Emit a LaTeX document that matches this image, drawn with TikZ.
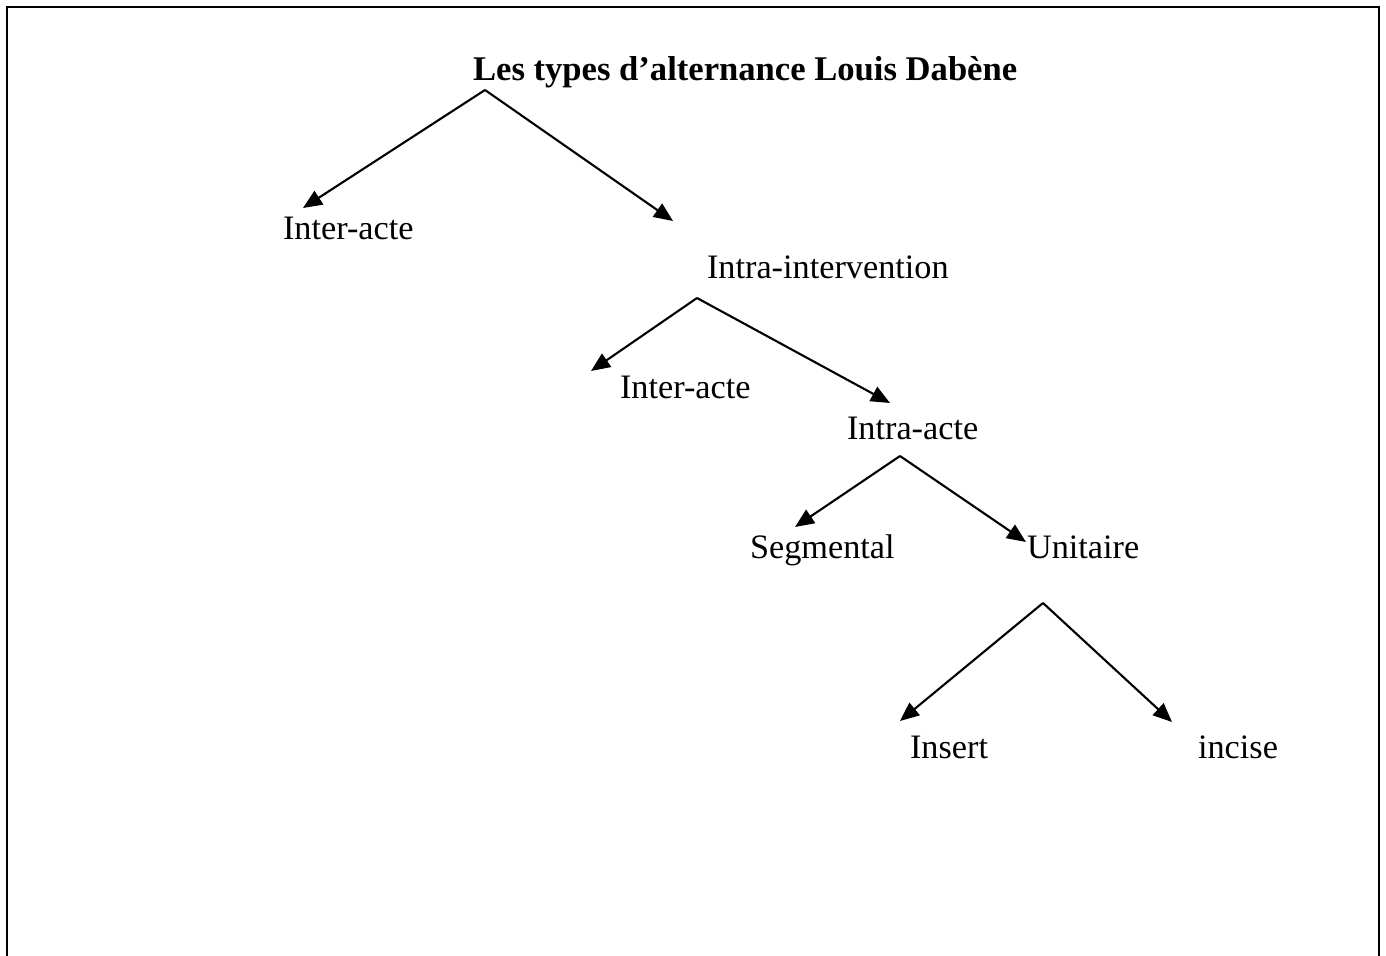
\documentclass[tikz,border=0pt]{standalone}
\usepackage{fontspec}
\setmainfont{Liberation Serif}
\usetikzlibrary{arrows.meta}

\begin{document}
\begin{tikzpicture}[x=0.02cm,y=-0.02cm,>={Triangle[length=0.38cm,width=0.32cm]},
    lbl/.style={anchor=base west,inner sep=0pt,font=\fontsize{19.5}{23}\selectfont},
    line width=1.2pt]
    \useasboundingbox (0,0) rectangle (1386,956);
    \draw[line width=1.6pt] (7,956) -- (7,7) -- (1379,7) -- (1379,956);
    % labels
    \node[lbl,font=\fontsize{19.7}{23}\selectfont\bfseries] (titre) at (472,81) {Les types d’alternance Louis Dabène};
    \node[lbl] (inter1) at (282,240) {Inter-acte};
    \node[lbl] (intraint) at (706,278) {Intra-intervention};
    \node[lbl] (inter2) at (619,398) {Inter-acte};
    \node[lbl] (intra) at (846,439) {Intra-acte};
    \node[lbl] (segm) at (749,558) {Segmental};
    \node[lbl] (unit) at (1026,558) {Unitaire};
    \node[lbl] (insert) at (909,758) {Insert};
    \node[lbl] (incise) at (1197,758) {incise};
    % branch points and arrow ends
    \coordinate (a1) at (485,90);  \coordinate (e1) at (303,208); \coordinate (e2) at (673,221);
    \coordinate (a2) at (697,298); \coordinate (e3) at (591,371); \coordinate (e4) at (890,403);
    \coordinate (a3) at (900,456); \coordinate (e5) at (795,527); \coordinate (e6) at (1026,542);
    \coordinate (a4) at (1043,603);\coordinate (e7) at (900,721); \coordinate (e8) at (1172,722);
    \path[->]
      (a1) edge (e1) edge (e2)
      (a2) edge (e3) edge (e4)
      (a3) edge (e5) edge (e6)
      (a4) edge (e7) edge (e8);
\end{tikzpicture}
\end{document}
